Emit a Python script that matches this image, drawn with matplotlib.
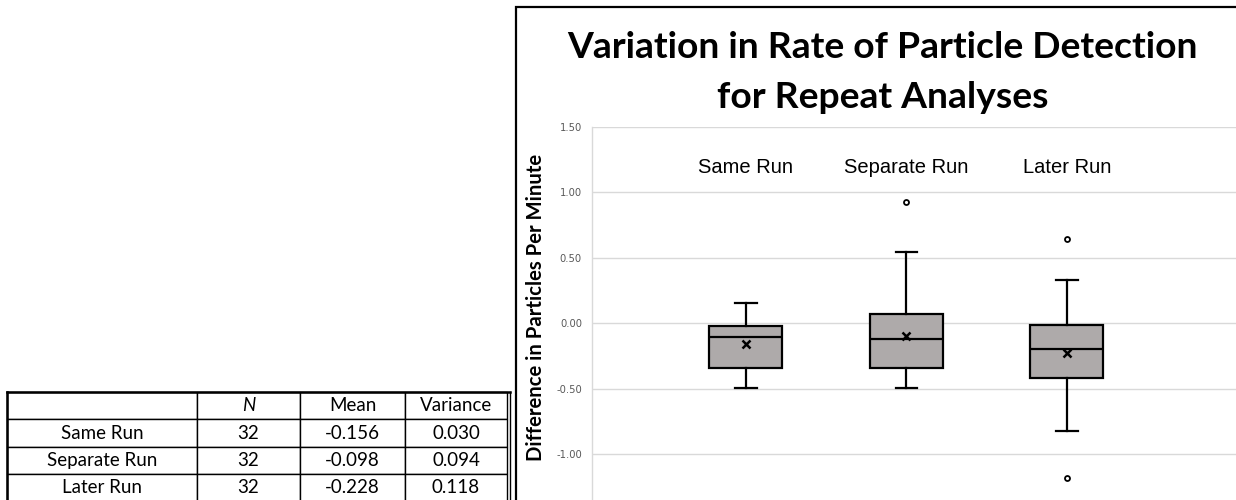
import matplotlib
matplotlib.use("Agg")
import matplotlib.pyplot as plt
from matplotlib.patches import Rectangle
from matplotlib.lines import Line2D

# resumen de los tres grupos de repetición
grupos = ["Same Run", "Separate Run", "Later Run"]
q1 = [-0.344, -0.344, -0.420]
mediana = [-0.105, -0.120, -0.194]
q3 = [-0.018, 0.073, -0.013]
bigote_inf = [-0.496, -0.494, -0.822]
bigote_sup = [0.157, 0.547, 0.330]
medias = [-0.156, -0.098, -0.228]
atipicos = [[], [0.924], [0.641, -1.179]]

# tabla de estadísticos
n_muestras = [32, 32, 32]
varianzas = [0.030, 0.094, 0.118]
encabezados = ["", "N", "Mean", "Variance"]

W, H = 1236, 500
fig = plt.figure(figsize=(W / 100, H / 100), dpi=100)

# --- marco del gráfico ---
fig.patches.append(Rectangle((515.5 / W, -0.1), 1.0, 1.1 - 7.5 / H,
                             transform=fig.transFigure, fill=False,
                             edgecolor="black", lw=1.6, clip_on=False))

# --- diagrama de caja ---
ax = fig.add_axes([591.7 / W, -0.0396, 1.02 - 591.7 / W, 0.7862])
pos = list(range(1, len(grupos) + 1))
stats = []
for i, g in enumerate(grupos):
    stats.append(dict(label=g, q1=q1[i], med=mediana[i], q3=q3[i],
                      whislo=bigote_inf[i], whishi=bigote_sup[i],
                      mean=medias[i], fliers=atipicos[i]))
ax.bxp(stats, positions=pos, widths=0.455, capwidths=0.133,
       showmeans=True, patch_artist=True,
       boxprops=dict(facecolor="#aeaaaa", edgecolor="black", lw=1.6),
       medianprops=dict(color="black", lw=1.6),
       whiskerprops=dict(color="black", lw=1.6),
       capprops=dict(color="black", lw=1.6),
       meanprops=dict(marker="x", markeredgecolor="black", markersize=6,
                      markeredgewidth=1.8),
       flierprops=dict(marker="o", markerfacecolor="white",
                       markeredgecolor="black", markersize=3.6,
                       markeredgewidth=1.3))
ax.set_xlim(0.039, 4.207)
ax.set_ylim(-1.5, 1.5)
ax.set_yticks([-1.0, -0.5, 0.0, 0.5, 1.0, 1.5])
ax.yaxis.set_major_formatter(matplotlib.ticker.FormatStrFormatter("%.2f"))
ax.tick_params(axis="y", length=0, pad=7, labelsize=7.2, labelcolor="#595959")
ax.set_xticks([])
ax.grid(True, axis="y", color="#d9d9d9", lw=1)
ax.set_axisbelow(True)
for lado in ["top", "right", "bottom"]:
    ax.spines[lado].set_visible(False)
ax.spines["left"].set_color("#d9d9d9")
ax.spines["left"].set_linewidth(1)

for x, g in zip(pos, grupos):
    ax.text(x, 1.185, g, ha="center", va="center", fontsize=14.5,
            family="Liberation Sans")

fig.text(536 / W, 1 - 307 / H, "Difference in Particles Per Minute",
         rotation=90, ha="center", va="center", fontsize=14.6,
         fontweight="bold", family="Lato")

fig.text(882.5 / W, 1 - 47 / H, "Variation in Rate of Particle Detection",
         ha="center", va="center", fontsize=26.8, fontweight="bold", family="Lato")
fig.text(882.5 / W, 1 - 98 / H, "for Repeat Analyses",
         ha="center", va="center", fontsize=26.8, fontweight="bold", family="Lato")

# --- tabla ---
tax = fig.add_axes([7 / W, -1.5 / H, 500 / W, 109.5 / H])
tax.axis("off")
filas = [encabezados]
for g, n, m, v in zip(grupos, n_muestras, medias, varianzas):
    filas.append([g, f"{n}", f"{m:.3f}", f"{v:.3f}"])
anchos = [190 / 500, 103 / 500, 105 / 500, 102 / 500]
tabla = tax.table(cellText=filas, colWidths=anchos, cellLoc="center",
                  bbox=[0, 0, 1, 1])
tabla.auto_set_font_size(False)
for (r, c), celda in tabla.get_celld().items():
    celda.set_linewidth(1.0)
    celda.set_edgecolor("black")
    t = celda.get_text()
    t.set_fontsize(13.5)
    t.set_family("Lato")
    if r == 0 and c == 1:
        t.set_style("italic")
# borde exterior más grueso
tax.add_line(Line2D([0, 0], [0, 1], color="black", lw=1.8,
                    transform=tax.transAxes, clip_on=False))
tax.add_line(Line2D([0, 1.006], [1, 1], color="black", lw=1.8,
                    transform=tax.transAxes, clip_on=False))
tax.add_line(Line2D([1.006, 1.006], [0, 1], color="black", lw=1.0,
                    transform=tax.transAxes, clip_on=False))

fig.savefig("out.png", dpi=100)
